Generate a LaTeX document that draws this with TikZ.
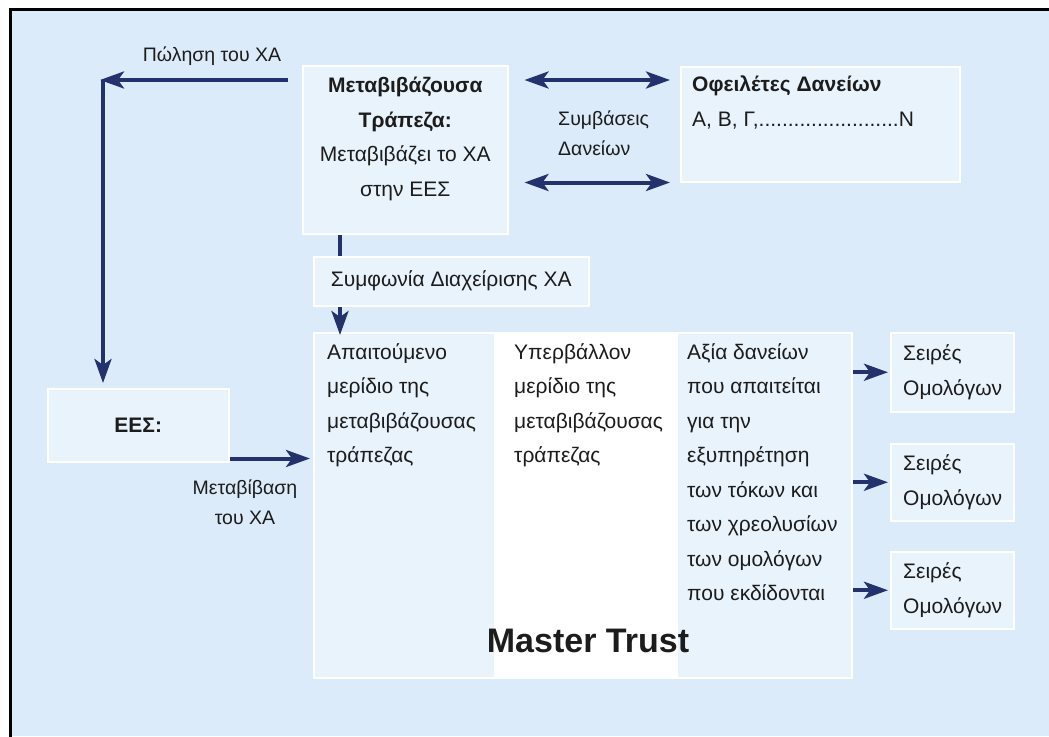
\documentclass[tikz,border=0pt]{standalone}
\usepackage{fontspec}
\setmainfont{Liberation Sans}
\usetikzlibrary{positioning,arrows.meta}

\definecolor{bgblue}{RGB}{219,235,249}
\definecolor{boxblue}{RGB}{232,243,252}
\definecolor{navy}{RGB}{35,50,108}
\definecolor{ink}{RGB}{28,28,28}

\begin{document}
\begin{tikzpicture}[x=1pt, y=-1pt,
    every node/.style={font=\fontsize{21}{34.5}\selectfont, text=ink},
    panel/.style={draw=white, line width=1.5pt, fill=boxblue, anchor=north west, inner sep=0pt},
    colbox/.style={panel, minimum height=345pt},
    txt/.style={anchor=north west, inner sep=0pt, align=left},
    lbl/.style={font=\fontsize{19.5}{30}\selectfont, inner sep=0pt},
    link/.style={line width=4pt, draw=navy},
    arrow/.style={link, -{Stealth[length=24pt, width=17pt, inset=6pt]}},
    biarrow/.style={link, {Stealth[length=24pt, width=17pt, inset=6pt]}-{Stealth[length=24pt, width=17pt, inset=6pt]}},
]
% page and frame
\useasboundingbox (0,0) rectangle (1049,736);
\fill[white] (0,0) rectangle (1049,736);
\fill[bgblue] (10,10) rectangle (1049,736);
\draw[line width=3pt] (10,737) -- (10,9.5) -- (1050,9.5);

% upper row
\node[panel, minimum width=205pt, minimum height=168pt] (bank) at (302,65) {};
\node[txt, anchor=north, align=center] (banktxt) at ([yshift=-12pt]bank.north)
    {\textbf{Μεταβιβάζουσα}\\\textbf{Τράπεζα:}\\Μεταβιβάζει το ΧΑ\\στην ΕΕΣ};
\node[panel, minimum width=279pt, minimum height=115pt] (loans) at (680,66) {};
\node[txt] (loanstxt) at ([shift={(12pt,-10pt)}]loans.north west)
    {\textbf{Οφειλέτες Δανείων}\\Α, Β, Γ,........................Ν};
\node[panel, minimum width=275pt, minimum height=49pt] (agree) at (313,256) {};
\node[inner sep=0pt] (agreetxt) at (agree.center) {Συμφωνία Διαχείρισης ΧΑ};
\node[panel, minimum width=181pt, minimum height=73pt] (ees) at (47,388) {};
\node[inner sep=0pt] (eestxt) at (ees.center) {\textbf{ΕΕΣ:}};

% master trust
\node[colbox, minimum width=181pt] (col1) at (313,332) {};
\node[colbox, minimum width=182pt, fill=white] (col2) at (494,332) {};
\node[colbox, minimum width=175pt] (col3) at (676,332) {};
\node[txt] (col1txt) at ([shift={(14pt,-11pt)}]col1.north west)
    {Απαιτούμενο\\μερίδιο της\\μεταβιβάζουσας\\τράπεζας};
\node[txt] (col2txt) at ([shift={(20pt,-11pt)}]col2.north west)
    {Υπερβάλλον\\μερίδιο της\\μεταβιβάζουσας\\τράπεζας};
\node[txt] (col3txt) at ([shift={(11pt,-11pt)}]col3.north west)
    {Αξία δανείων\\που απαιτείται\\για την\\εξυπηρέτηση\\των τόκων και\\των χρεολυσίων\\των ομολόγων\\που εκδίδονται};
\node[font=\fontsize{34}{40}\bfseries\selectfont, inner sep=0pt] (mtrust) at (588,641) {Master Trust};

% bond series
\foreach \i/\y/\h in {1/332/79, 2/443/77, 3/551/77} {
  \node[panel, minimum width=123pt, minimum height=\h pt] (bond\i) at (890,\y) {};
  \node[txt, anchor=west] (bond\i txt) at ([xshift=13pt]bond\i.west) {Σειρές\\Ομολόγων};
  \draw[arrow, shorten >=2pt] (col3.east |- bond\i.west) -- (bond\i.west);
}

% connectors
\coordinate (sellfrom) at (288,80);
\coordinate (sellto) at (100,80);
\draw[arrow] (sellfrom) -- (sellto);
\draw[arrow, shorten >=5pt] ([xshift=3pt]sellto) -- ([xshift=3pt]sellto |- ees.north);
\node[lbl] (selllbl) at (212,56) {Πώληση του ΧΑ};

\draw[link] ([xshift=38pt]bank.south west) -- ([xshift=38pt]bank.south west |- agree.north);
\draw[arrow, shorten >=-3pt] ([xshift=27pt]agree.south west) -- ([xshift=27pt]agree.south west |- col1.north);

\draw[biarrow] ([shift={(16pt,-15pt)}]bank.north east) -- ([shift={(-10pt,-14pt)}]loans.north west);
\draw[biarrow] ([xshift=16pt]bank.east |- loans.south) -- ([xshift=-10pt]loans.south west);
\node[lbl, anchor=west, align=left] (loanlbl) at (558,133) {Συμβάσεις\\Δανείων};

\coordinate (movefrom) at ([yshift=4pt]ees.south east);
\draw[arrow, shorten >=3pt] (movefrom) -- (col1.west |- movefrom);
\node[lbl, align=center] (movelbl) at (245,502) {Μεταβίβαση\\του ΧΑ};
\end{tikzpicture}
\end{document}
